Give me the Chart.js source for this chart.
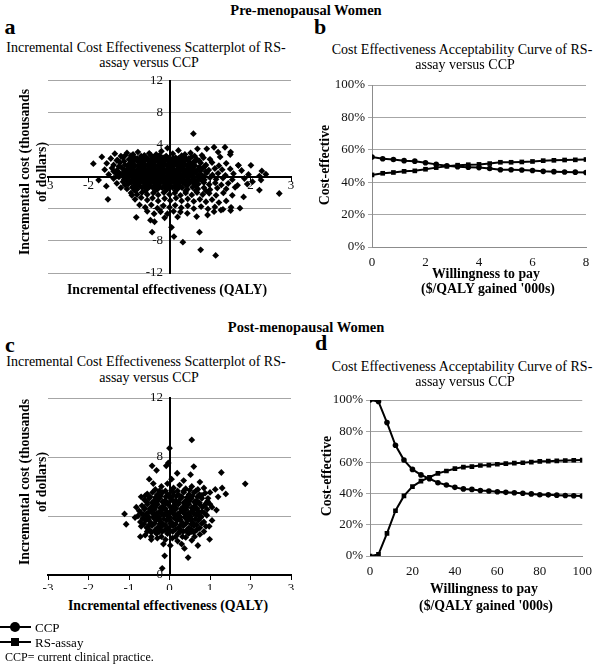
<!DOCTYPE html>
<html>
<head>
<meta charset="utf-8">
<script src="https://cdn.jsdelivr.net/npm/chart.js@4/dist/chart.umd.min.js"></script>
<style>
  body { margin: 0; width: 600px; height: 670px; position: relative; background: #fff; overflow: hidden;
         font-family: "Liberation Serif", "Times New Roman", serif; color: #000; }
  .t { position: absolute; white-space: nowrap; line-height: 1; }
  canvas { position: absolute; }
</style>
</head>
<body>
<canvas id="chart-a" width="300" height="220" style="left:0;top:70px"></canvas>
<canvas id="chart-b" width="300" height="210" style="left:300px;top:70px"></canvas>
<canvas id="chart-c" width="300" height="205" style="left:0;top:385px"></canvas>
<canvas id="chart-d" width="300" height="200" style="left:300px;top:385px"></canvas>

<script>
// ── Panel a: pre-menopausal ICER scatter (QALY, $000s) ──
const prePoints = [
  [0.59,5.4],[-1.88,1.65],[-1.67,2.5],[-1.75,-0.4],[-1.56,-1.16],[-1.52,-2.8],
  [-0.43,-6.9],[0.05,-6.3],[0.11,-7.45],[0.33,-8.15],[0.74,-6.9],[0.77,-9.1],[1.14,-9.8],
  [1.51,3.1],[1.7,1.45],[2.22,0.1],[1.95,0.3],[2.01,1.45],[2.28,0.75],[2.38,0.33],
  [2.26,-0.4],[2.05,-0.6],[2.71,-2.07],[2.22,-1.65],[1.83,-2.5],[1.92,-0.9],[1.85,-0.2],
  [-1.35,2.9],[-1.2,2.6],[-1.05,3.0],[-0.9,2.8],[-0.78,3.1],[-0.62,2.7],[-0.5,2.95],[-0.33,2.8],
  [-0.2,3.2],[-0.05,3.6],[0.08,2.9],[0.22,3.3],[0.38,2.8],[0.52,3.0],[0.69,3.5],[0.8,2.7],
  [0.92,3.5],[1.1,3.7],[1.37,3.7],[1.2,3.1],
  [-1.1,2.65],[-0.95,2.65],[-0.7,2.6],[-0.45,2.65],[-0.25,2.7],[-0.08,2.6],[0.3,2.65],[0.62,2.6],
  [-1.45,2.3],[-1.28,2.1],[-1.15,2.4],[-1.0,2.2],[-0.88,2.5],[-0.74,2.2],[-0.6,2.4],[-0.47,2.1],
  [-0.35,2.4],[-0.22,2.2],[-0.1,2.5],[0.03,2.2],[0.15,2.4],[0.28,2.1],[0.41,2.3],[0.55,2.5],
  [0.68,2.2],[0.84,2.4],[1.0,2.2],[1.25,2.5],[1.5,2.8],
  [-0.93,2.35],[-0.8,2.3],[-0.68,2.4],[-0.54,2.3],[-0.41,2.35],[-0.28,2.3],[-0.16,2.4],[-0.03,2.3],
  [0.09,2.35],[0.22,2.3],[0.35,2.4],[0.48,2.3],
  [-1.3,2.05],[-0.87,2.05],[-0.6,2.1],[-0.35,2.05],[-0.1,2.1],[0.15,2.05],[0.4,2.1],[0.66,2.05],
  [-1.12,1.95],[-0.95,1.9],[-0.8,2.0],[-0.66,1.85],[-0.53,2.0],[-0.41,1.9],[-0.29,2.0],[-0.16,1.85],
  [-0.04,2.0],[0.09,1.9],[0.21,2.0],[0.34,1.85],[0.47,2.0],[0.6,1.9],[0.74,2.0],
  [-1.55,1.7],[-1.38,1.5],[-1.22,1.8],[-1.1,1.5],[-0.97,1.7],[-0.85,1.4],[-0.72,1.8],[-0.6,1.5],
  [-0.48,1.7],[-0.36,1.45],[-0.25,1.8],[-0.12,1.55],[0.0,1.75],[0.12,1.5],[0.25,1.8],[0.37,1.55],
  [0.5,1.7],[0.63,1.4],[0.77,1.75],[0.9,1.5],[1.05,1.8],[1.22,1.4],[1.4,1.7],[1.7,1.45],
  [-1.03,1.45],[-0.9,1.5],[-0.78,1.4],[-0.66,1.5],[-0.54,1.45],[-0.42,1.5],[-0.3,1.4],[-0.18,1.5],
  [-0.06,1.45],[0.06,1.4],[0.18,1.5],[0.31,1.45],[0.43,1.4],[0.56,1.5],
  [-1.25,1.3],[-1.0,1.25],[-0.87,1.35],[-0.74,1.25],[-0.62,1.35],[-0.5,1.25],[-0.38,1.35],[-0.26,1.25],
  [-0.14,1.35],[-0.02,1.25],[0.1,1.35],[0.22,1.25],[0.34,1.35],[0.47,1.25],[0.6,1.35],[0.74,1.25],[0.88,1.35],
  [-0.97,1.15],[-0.72,1.2],[-0.47,1.15],[-0.22,1.2],[0.03,1.15],[0.28,1.2],[0.53,1.15],
  [-1.6,0.9],[-1.42,1.1],[-1.3,0.8],[-1.18,1.15],[-1.05,0.9],[-0.93,1.1],[-0.8,0.85],[-0.68,1.15],
  [-0.55,0.9],[-0.43,1.1],[-0.3,0.85],[-0.18,1.15],[-0.06,0.9],[0.06,1.1],[0.18,0.85],[0.3,1.1],
  [0.43,0.9],[0.56,1.15],[0.7,0.9],[0.83,1.1],[0.97,0.85],[1.12,1.05],[1.3,0.9],[1.5,1.0],[1.78,0.8],
  [-1.11,0.85],[-0.99,0.9],[-0.87,0.8],[-0.74,0.9],[-0.62,0.85],[-0.49,0.8],[-0.36,0.9],[-0.24,0.85],
  [-0.12,0.8],[0.0,0.9],[0.12,0.85],[0.25,0.8],[0.37,0.9],[0.49,0.85],[0.62,0.8],
  [-1.38,0.7],[-1.12,0.65],[-0.99,0.75],[-0.86,0.65],[-0.74,0.75],[-0.62,0.65],[-0.49,0.75],[-0.37,0.65],
  [-0.24,0.75],[-0.12,0.65],[0.0,0.75],[0.12,0.65],[0.24,0.75],[0.37,0.65],[0.5,0.75],[0.62,0.65],[0.76,0.75],[0.9,0.65],
  [-1.25,0.55],[-0.9,0.55],[-0.65,0.6],[-0.4,0.55],[-0.15,0.6],[0.1,0.55],[0.35,0.6],[0.6,0.55],
  [-1.5,0.3],[-1.33,0.5],[-1.2,0.25],[-1.08,0.5],[-0.95,0.3],[-0.83,0.55],[-0.7,0.3],[-0.58,0.5],
  [-0.45,0.25],[-0.33,0.5],[-0.2,0.3],[-0.08,0.55],[0.04,0.3],[0.16,0.5],[0.28,0.25],[0.4,0.5],
  [0.52,0.3],[0.65,0.55],[0.78,0.3],[0.92,0.5],[1.06,0.25],[1.2,0.45],[1.38,0.2],[1.58,0.4],
  [-1.14,0.2],[-1.01,0.25],[-0.89,0.15],[-0.76,0.2],[-0.64,0.25],[-0.51,0.15],[-0.39,0.2],[-0.26,0.25],
  [-0.14,0.15],[-0.02,0.2],[0.1,0.25],[0.22,0.15],[0.34,0.2],[0.46,0.25],
  [-1.3,0.1],[-1.05,0.15],[-0.92,0.05],[-0.79,0.15],[-0.66,0.05],[-0.54,0.15],[-0.41,0.05],[-0.29,0.15],
  [-0.16,0.05],[-0.04,0.15],[0.08,0.05],[0.2,0.15],[0.32,0.05],[0.45,0.15],[0.58,0.05],[0.71,0.15],[0.85,0.05],
  [-1.38,-0.2],[-1.25,0.0],[-1.12,-0.3],[-1.0,-0.05],[-0.88,-0.3],[-0.75,-0.1],[-0.62,-0.35],[-0.5,-0.05],
  [-0.38,-0.3],[-0.25,-0.1],[-0.12,-0.35],[0.0,-0.05],[0.12,-0.3],[0.24,-0.1],[0.36,-0.35],[0.48,-0.05],
  [0.6,-0.3],[0.73,-0.1],[0.86,-0.35],[1.0,-0.1],[1.15,-0.3],[1.32,-0.15],[1.55,-0.35],
  [-1.05,-0.35],[-0.8,-0.4],[-0.55,-0.35],[-0.3,-0.4],[-0.05,-0.35],[0.2,-0.4],[0.45,-0.35],[0.7,-0.4],
  [-1.05,-0.5],[-0.93,-0.45],[-0.8,-0.55],[-0.68,-0.45],[-0.56,-0.55],[-0.43,-0.45],[-0.31,-0.55],[-0.19,-0.45],
  [-0.07,-0.55],[0.05,-0.45],[0.17,-0.55],[0.3,-0.45],[0.42,-0.55],[0.55,-0.45],[0.67,-0.55],[0.8,-0.45],
  [-0.96,-0.65],[-0.83,-0.7],[-0.71,-0.6],[-0.58,-0.65],[-0.46,-0.7],[-0.34,-0.6],[-0.21,-0.65],[-0.09,-0.7],
  [0.03,-0.6],[0.15,-0.65],[0.27,-0.7],[0.4,-0.6],[0.52,-0.65],
  [-1.3,-0.8],[-1.15,-0.6],[-1.02,-0.9],[-0.9,-0.65],[-0.77,-0.95],[-0.64,-0.7],[-0.52,-0.95],[-0.4,-0.65],
  [-0.27,-0.9],[-0.15,-0.7],[-0.03,-0.95],[0.09,-0.65],[0.21,-0.9],[0.33,-0.7],[0.46,-0.95],[0.58,-0.7],
  [0.71,-0.9],[0.85,-0.7],[0.98,-0.95],[1.13,-0.75],[1.28,-1.0],[1.45,-0.8],[1.68,-1.05],
  [-1.1,-1.0],[-0.85,-1.05],[-0.6,-1.0],[-0.35,-1.05],[-0.1,-1.0],[0.15,-1.05],[0.4,-1.0],[0.65,-1.05],
  [-0.86,-1.2],[-0.73,-1.15],[-0.61,-1.25],[-0.49,-1.2],[-0.36,-1.15],[-0.24,-1.25],[-0.12,-1.2],[0.01,-1.15],
  [0.13,-1.25],[0.25,-1.2],
  [-1.2,-1.35],[-1.05,-1.5],[-0.92,-1.3],[-0.8,-1.55],[-0.67,-1.35],[-0.55,-1.5],[-0.42,-1.3],[-0.3,-1.55],
  [-0.18,-1.35],[-0.05,-1.5],[0.07,-1.3],[0.19,-1.55],[0.31,-1.35],[0.44,-1.55],[0.57,-1.3],[0.7,-1.5],
  [0.85,-1.35],[1.0,-1.6],[1.18,-1.4],[1.4,-1.5],[1.62,-1.3],
  [-0.85,-1.7],[-0.6,-1.75],[-0.35,-1.7],[-0.1,-1.75],[0.15,-1.7],[0.4,-1.75],[0.65,-1.7],[0.9,-1.75],
  [-0.95,-2.0],[-0.8,-2.2],[-0.68,-1.95],[-0.55,-2.2],[-0.4,-2.0],[-0.28,-2.25],[-0.14,-1.95],[0.0,-2.2],
  [0.13,-2.0],[0.27,-2.3],[0.4,-2.0],[0.55,-2.25],[0.68,-1.95],[0.82,-2.2],[0.98,-2.05],[1.15,-2.3],
  [1.33,-2.0],[1.55,-2.3],
  [-0.93,-2.3],[-0.85,-2.8],[-0.7,-2.6],[-0.55,-2.9],[-0.42,-2.65],[-0.28,-3.0],[-0.12,-2.7],[0.02,-2.95],
  [0.16,-2.65],[0.3,-3.0],[0.45,-2.75],[0.6,-3.05],[0.75,-2.8],[0.9,-3.1],[1.05,-2.85],[1.22,-3.2],[1.4,-3.0],
  [-0.74,-3.5],[-0.6,-3.8],[-0.45,-3.5],[-0.3,-3.9],[-0.15,-3.6],[0.0,-3.8],[0.14,-3.55],[0.29,-3.85],
  [0.45,-3.6],[0.6,-3.95],[0.78,-3.7],[0.95,-4.0],[1.12,-3.75],[1.32,-4.05],[1.52,-3.8],[1.74,-3.9],
  [-0.82,-5.05],[-0.55,-4.3],[-0.38,-4.6],[-0.22,-4.35],[-0.05,-4.6],[0.1,-4.3],[0.27,-4.38],[0.44,-4.55],
  [0.67,-4.96],[0.94,-4.76],[1.1,-4.34],[1.27,-4.14],[1.51,-4.2],[-0.47,-5.4],[-0.37,-5.6],[-0.12,-5.1],[0.2,-5.0]
];

// ── Panel c: post-menopausal ICER scatter ──
const postPoints = [
  [0.55,9.16],[0.0,8.6],[-0.03,7.6],[-0.08,7.4],[-0.43,7.4],[-0.32,7.1],[0.6,7.35],[1.28,6.95],
  [1.87,6.18],[0.52,6.8],[0.19,6.9],[-0.5,6.5],[0.05,6.5],[0.35,6.4],[0.75,6.3],[1.3,5.9],[-0.4,6.2],
  [0.37,1.8],[0.46,1.18],[-0.12,1.3],[-0.18,0.45],[0.3,2.1],[0.7,2.0],[-0.45,2.4],[-0.72,2.6],
  [-0.85,3.9],[-0.82,4.6],[-0.7,5.3],[0.95,5.2],[1.05,4.6],[1.05,3.7],[0.98,3.3],
  [-0.35,5.8],[-0.2,6.0],[-0.05,6.2],[0.1,5.9],[0.25,6.1],[0.4,5.85],[0.55,6.0],[0.7,5.8],[0.85,5.9],[1.0,5.6],
  [-0.25,5.7],[-0.1,5.7],[0.05,5.75],[0.2,5.7],[0.35,5.7],[0.5,5.75],[0.65,5.7],
  [-0.55,5.5],[-0.42,5.6],[-0.3,5.45],[-0.17,5.6],[-0.04,5.45],[0.09,5.6],[0.22,5.45],[0.35,5.6],
  [0.48,5.45],[0.61,5.6],[0.74,5.45],[0.88,5.55],[1.13,5.8],[1.39,5.5],
  [-0.6,5.38],[-0.28,5.38],[0.1,5.4],[0.5,5.38],[0.8,5.4],
  [-0.48,5.3],[-0.35,5.25],[-0.22,5.35],[-0.09,5.3],[0.04,5.25],[0.17,5.35],[0.3,5.3],[0.43,5.25],[0.56,5.35],[0.69,5.3],
  [-0.62,5.1],[-0.5,5.2],[-0.37,5.05],[-0.24,5.2],[-0.11,5.05],[0.02,5.2],[0.15,5.05],[0.28,5.2],
  [0.41,5.05],[0.54,5.2],[0.67,5.05],[0.8,5.2],[0.94,5.0],[1.2,5.3],
  [-0.56,4.95],[-0.43,4.9],[-0.3,5.0],[-0.17,4.95],[-0.04,4.9],[0.09,5.0],[0.22,4.95],[0.35,4.9],
  [0.48,5.0],[0.61,4.95],[0.74,4.9],
  [-0.36,4.85],[-0.1,4.85],[0.15,4.85],[0.42,4.85],[0.66,4.85],[0.9,4.85],
  [-0.68,4.7],[-0.55,4.8],[-0.43,4.65],[-0.3,4.8],[-0.17,4.65],[-0.04,4.8],[0.09,4.65],[0.22,4.8],
  [0.35,4.65],[0.48,4.8],[0.61,4.65],[0.74,4.8],[0.87,4.7],[1.0,4.8],
  [-0.62,4.55],[-0.49,4.5],[-0.36,4.6],[-0.23,4.55],[-0.1,4.5],[0.03,4.6],[0.16,4.55],[0.29,4.5],
  [0.42,4.6],[0.55,4.55],[0.68,4.5],[0.81,4.6],
  [-0.44,4.42],[-0.18,4.42],[0.09,4.4],[0.35,4.42],[0.6,4.4],
  [-0.75,4.35],[-0.62,4.45],[-0.5,4.3],[-0.37,4.45],[-0.24,4.3],[-0.11,4.45],[0.02,4.3],[0.15,4.45],
  [0.28,4.3],[0.41,4.45],[0.54,4.3],[0.67,4.45],[0.8,4.3],[0.93,4.45],[1.16,4.4],
  [-0.7,4.2],[-0.57,4.15],[-0.44,4.25],[-0.31,4.2],[-0.18,4.15],[-0.05,4.25],[0.08,4.2],[0.21,4.15],
  [0.34,4.25],[0.47,4.2],[0.6,4.15],[0.73,4.25],[0.86,4.2],
  [-0.58,4.05],[-0.33,4.05],[-0.06,4.05],[0.19,4.05],[0.45,4.05],[0.71,4.05],
  [-0.78,4.0],[-0.65,4.1],[-0.52,3.95],[-0.39,4.1],[-0.26,3.95],[-0.13,4.1],[0.0,3.95],[0.13,4.1],
  [0.26,3.95],[0.39,4.1],[0.52,3.95],[0.65,4.1],[0.78,3.95],[0.92,4.05],[-1.11,4.14],
  [-0.66,3.85],[-0.53,3.8],[-0.4,3.9],[-0.27,3.85],[-0.14,3.8],[-0.01,3.9],[0.12,3.85],[0.25,3.8],
  [0.38,3.9],[0.51,3.85],[0.64,3.8],[0.77,3.9],
  [-0.52,3.75],[-0.26,3.75],[0.0,3.75],[0.26,3.75],[0.52,3.75],
  [-0.72,3.6],[-0.59,3.7],[-0.46,3.55],[-0.33,3.7],[-0.2,3.55],[-0.07,3.7],[0.06,3.55],[0.19,3.7],
  [0.32,3.55],[0.45,3.7],[0.58,3.55],[0.71,3.7],[0.85,3.6],[-1.07,3.44],
  [-0.63,3.45],[-0.5,3.4],[-0.37,3.5],[-0.24,3.45],[-0.11,3.4],[0.02,3.5],[0.15,3.45],[0.28,3.4],
  [0.41,3.5],[0.54,3.45],[0.67,3.4],[0.8,3.5],
  [-0.45,3.38],[-0.2,3.38],[0.06,3.38],[0.33,3.38],[0.6,3.38],
  [-0.7,3.3],[-0.56,3.2],[-0.43,3.35],[-0.3,3.2],[-0.17,3.35],[-0.04,3.2],[0.09,3.35],[0.22,3.2],
  [0.35,3.35],[0.48,3.2],[0.61,3.35],[0.75,3.2],[0.9,3.3],
  [-0.5,3.05],[-0.37,3.0],[-0.24,3.1],[-0.11,3.05],[0.02,3.0],[0.15,3.1],[0.28,3.05],[0.41,3.0],
  [0.54,3.1],[0.67,3.05],
  [-0.55,2.95],[-0.25,2.95],[0.0,2.95],[0.27,2.95],[0.55,2.95],[0.85,2.95],
  [-0.6,2.7],[-0.45,2.9],[-0.32,2.8],[-0.18,2.95],[-0.05,2.8],[0.08,2.95],[0.21,2.8],[0.34,2.95],
  [0.47,2.8],[0.6,2.9],[0.75,2.75],[0.99,2.42],
  [-0.45,2.6],[-0.2,2.6],[0.15,2.6],[0.32,2.6],[0.62,2.6],
  [-0.3,2.5],[-0.1,2.4],[0.07,2.5],[0.2,2.3],[0.4,2.55],[0.55,2.35],[0.02,2.0],[-0.15,2.1]
];

// ── Panel b: CEAC, pre-menopausal (WTP $000s per QALY, % cost-effective) ──
const wtpPre = [0,0.4,0.8,1.2,1.6,2,2.4,2.8,3.2,3.6,4,4.4,4.8,5.2,5.6,6,6.4,6.8,7.2,7.6,8];
const ccpPre = [55.5,54.5,54,53.3,53,52,51,50.2,49.5,49.2,49,48.5,47.7,47.7,47.5,47.2,46.7,46.5,46.3,46.2,46];
const rsPre  = [44.5,45.5,46,46.7,47,48,49,49.8,50.5,50.8,51,51.5,52.3,52.3,52.5,52.8,53.3,53.5,53.7,53.8,54];

// ── Panel d: CEAC, post-menopausal ──
const wtpPost = [0,4,8,12,16,20,24,28,32,36,40,44,48,52,56,60,64,68,72,76,80,84,88,92,96,100];
const ccpPost = [100,99,85.5,71,61.5,55.5,52,49.5,47,45.5,44,43,42.7,42,41.7,41.2,40.8,40.5,40.2,39.8,39.3,39.2,39,38.8,38.6,38.5];
const rsPost  = [0,1,14.5,29,38.5,44.5,48,50.5,53,54.5,56,57,57.3,58,58.3,58.8,59.2,59.5,59.8,60.2,60.7,60.8,61,61.2,61.4,61.5];

const SERIF = "'Liberation Serif', 'Times New Roman', serif";
const TICK_FONT = { family: SERIF, size: 13 };

Chart.defaults.font.family = SERIF;
Chart.defaults.color = "#000";
Chart.defaults.animation = false;
Chart.defaults.responsive = false;
Chart.defaults.events = [];
Chart.defaults.plugins.legend.display = false;
Chart.defaults.plugins.tooltip.enabled = false;

// ── text helper (centre-anchored) ──
function txt(s, x, y, css, rot) {
  const d = document.createElement("div");
  d.className = "t";
  d.textContent = s;
  d.style.cssText += css || "";
  d.style.left = x + "px";
  d.style.top = y + "px";
  d.style.transform = "translate(-50%,-50%)" + (rot ? " rotate(-90deg)" : "");
  document.body.appendChild(d);
}

function scatterCfg(points, yMin, yMax, pad, labelPad) {
  return {
    type: "scatter",
    data: { datasets: [{
      data: points.map(([x, y]) => ({ x, y })),
      pointStyle: "rectRot", pointRadius: 3.4, borderWidth: 0, backgroundColor: "#000"
    }] },
    options: {
      layout: { padding: pad },
      scales: {
        x: {
          type: "linear", min: -3, max: 3, position: { y: yMin < 0 ? 0 : yMin },
          ticks: { stepSize: 1, font: TICK_FONT, padding: labelPad, color: "#111" },
          grid: { drawOnChartArea: false, tickLength: 4, color: "#000", lineWidth: 1 },
          border: { color: "#000", width: 2 },
          afterFit: s => { s.height = 0; }
        },
        y: {
          min: yMin, max: yMax, position: { x: 0 },
          ticks: { stepSize: 4, font: TICK_FONT, color: "#111", callback: v => v + "\u2002" },
          grid: { color: "#a6a6a6", lineWidth: 1, drawTicks: false },
          border: { color: "#000", width: 2 },
          afterFit: s => { s.width = 0; }
        }
      }
    }
  };
}

function ceacCfg(wtp, ccp, rs, xMax, xStep, pad, yW) {
  const line = (label, vals, style, r) => ({
    label, data: wtp.map((x, i) => ({ x, y: vals[i] })),
    borderColor: "#000", backgroundColor: "#000", borderWidth: 2,
    pointStyle: style, pointRadius: r, pointBorderWidth: 0, tension: 0
  });
  return {
    type: "line",
    data: { datasets: [line("CCP", ccp, "circle", 2.8), line("RS-assay", rs, "rect", 3.3)] },
    options: {
      layout: { padding: pad },
      scales: {
        x: {
          type: "linear", min: 0, max: xMax,
          ticks: { stepSize: xStep, font: TICK_FONT, padding: 8, color: "#111" },
          grid: { display: false, drawTicks: false },
          border: { color: "#8c8c8c", width: 1 },
          afterFit: s => { s.height = 22; }
        },
        y: {
          min: 0, max: 100,
          ticks: { stepSize: 20, font: TICK_FONT, padding: 3, color: "#111", callback: v => v + "%" },
          grid: { color: "#a6a6a6", lineWidth: 1, tickLength: 4 },
          border: { color: "#8c8c8c", width: 1 },
          afterFit: s => { s.width = yW; }
        }
      }
    }
  };
}

new Chart(document.getElementById("chart-a"), scatterCfg(prePoints, -12, 12, { left: 48, top: 10, right: 9, bottom: 17 }, -3));
new Chart(document.getElementById("chart-c"), scatterCfg(postPoints, 0, 12, { left: 48, top: 13, right: 9, bottom: 15 }, 2));
new Chart(document.getElementById("chart-b"), ceacCfg(wtpPre, ccpPre, rsPre, 8, 2, { left: 0, top: 15, right: 14, bottom: 11 }, 72));
new Chart(document.getElementById("chart-d"), ceacCfg(wtpPost, ccpPost, rsPost, 100, 20, { left: 0, top: 15, right: 13, bottom: 7 }, 70));

// ── headers, titles, axis titles ──
const HDR = "font-weight:bold;font-size:14.5px;";
const LET = "font-weight:bold;font-size:22px;";
const TTL = "font-size:14px;";
const AX  = "font-weight:bold;font-size:13.8px;";

txt("Pre-menopausal Women", 306, 10, HDR);
txt("Post-menopausal Women", 306, 327, HDR);

txt("a", 10, 27, LET);
txt("b", 320, 27, LET);
txt("c", 10, 345, LET);
txt("d", 321, 343, LET);

txt("Incremental Cost Effectiveness Scatterplot of RS-", 146, 48, TTL);
txt("assay versus CCP", 149, 63, TTL);
txt("Cost Effectiveness Acceptability Curve of RS-", 462, 50, TTL);
txt("assay versus CCP", 465, 65, TTL);
txt("Incremental Cost Effectiveness Scatterplot of RS-", 146, 362, TTL);
txt("assay versus CCP", 149, 378, TTL);
txt("Cost Effectiveness Acceptability Curve of RS-", 462, 367, TTL);
txt("assay versus CCP", 465, 382, TTL);

txt("Incremental cost (thousands", 25, 172, AX, true);
txt("of dollars)", 42, 172, AX, true);
txt("Incremental effectiveness (QALY)", 167, 290, AX);
txt("Incremental cost (thousands", 25, 482, AX, true);
txt("of dollars)", 42, 482, AX, true);
txt("Incremental effectiveness (QALY)", 168, 606, AX);

txt("Cost-effective", 325, 165, AX, true);
txt("Willingness to pay", 486, 274, AX);
txt("($/QALY gained '000s)", 488, 289, AX);
txt("Cost-effective", 327, 476, AX, true);
txt("Willingness to pay", 484, 589, AX);
txt("($/QALY gained '000s)", 486, 606, AX);

// ── legend (bottom left) ──
function legendRow(y, shape, label) {
  const ln = document.createElement("div");
  ln.style.cssText = `position:absolute;left:0;top:${y - 1}px;width:31px;height:2px;background:#000`;
  document.body.appendChild(ln);
  const mk = document.createElement("div");
  mk.style.cssText = shape === "circle"
    ? `position:absolute;left:10px;top:${y - 5}px;width:10px;height:10px;border-radius:50%;background:#000`
    : `position:absolute;left:11px;top:${y - 4}px;width:8px;height:8px;background:#000`;
  document.body.appendChild(mk);
  const t = document.createElement("div");
  t.className = "t";
  t.textContent = label;
  t.style.cssText += `left:35px;top:${y}px;transform:translateY(-50%);font-size:13px`;
  document.body.appendChild(t);
}
legendRow(627, "circle", "CCP");
legendRow(642, "rect", "RS-assay");
const note = document.createElement("div");
note.className = "t";
note.textContent = "CCP= current clinical practice.";
note.style.cssText += "left:5px;top:657px;transform:translateY(-50%);font-size:12px";
document.body.appendChild(note);
</script>
</body>
</html>
